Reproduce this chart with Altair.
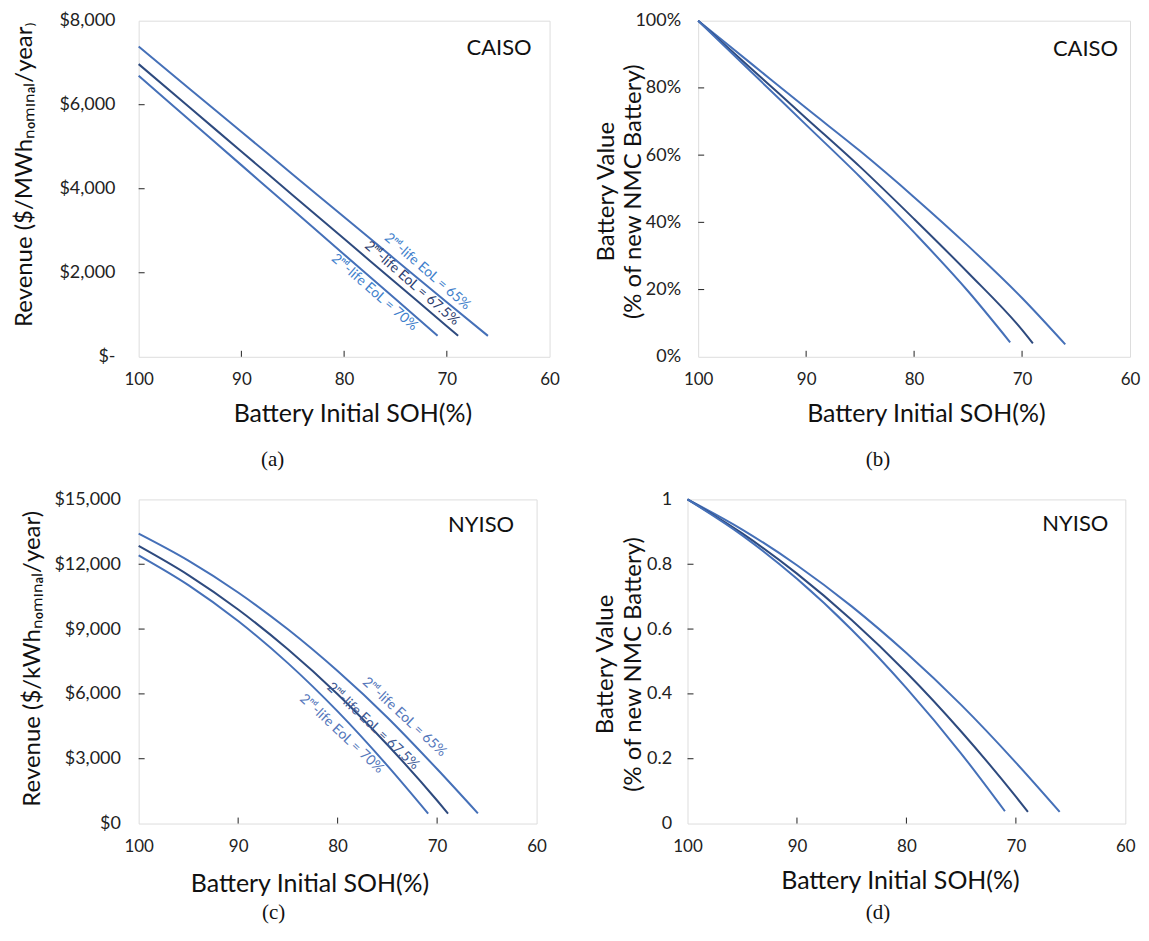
import altair as alt
import pandas as pd

series_names = ["EoL 65%", "EoL 67.5%", "EoL 70%"]
label_texts = ["2ⁿᵈ-life EoL = 65%", "2ⁿᵈ-life EoL = 67.5%", "2ⁿᵈ-life EoL = 70%"]

# (a) CAISO revenue ($/MWh-nominal/year)
a_soh_65 = [100, 95, 90, 85, 80, 75, 70, 66.0]
a_val_65 = [7385, 6370, 5356, 4341, 3327, 2312, 1298, 498]
a_soh_675 = [100, 95, 90, 85, 80, 75, 70, 68.9]
a_val_675 = [6966, 5926, 4887, 3847, 2808, 1768, 729, 500]
a_soh_70 = [100, 95, 90, 85, 80, 75, 70.9]
a_val_70 = [6688, 5625, 4562, 3499, 2436, 1373, 500]
a_label_soh = [71.9, 73.4, 77.05]
a_label_val = [2024, 1746, 1533]

# (b) CAISO battery value (% of new NMC battery)
b_soh_65 = [100, 95, 90, 85, 80, 75, 70, 66.0]
b_val_65 = [100, 87, 74, 61.2, 47.5, 33, 17.5, 3.7]
b_soh_675 = [100, 95, 90, 85, 80, 75, 70, 69.0]
b_val_675 = [100, 85.5, 71, 56.5, 41, 25, 8, 4.0]
b_soh_70 = [100, 95, 90, 85, 80, 75, 71.1]
b_val_70 = [100, 84.5, 69, 53.5, 37, 19.5, 4.3]

# (c) NYISO revenue ($/kWh-nominal/year)
c_soh_65 = [100, 95, 90, 85, 80, 75, 70, 65.9]
c_val_65 = [13415, 12167, 10692, 8988, 7056, 4910, 2522, 470]
c_soh_675 = [100, 95, 90, 85, 80, 75, 70, 68.9]
c_val_675 = [12846, 11497, 9904, 8067, 5986, 3648, 1066, 462]
c_soh_70 = [100, 95, 90, 85, 80, 75, 70.9]
c_val_70 = [12415, 11037, 9373, 7424, 5189, 2682, 462]
c_label_soh = [73.3, 76.45, 79.6]
c_label_val = [4925, 4500, 4150]

# (d) NYISO battery value (fraction of new NMC battery)
d_soh_65 = [100, 95, 90, 85, 80, 75, 70, 66.0]
d_val_65 = [1.0, 0.907, 0.797, 0.670, 0.526, 0.366, 0.188, 0.036]
d_soh_675 = [100, 95, 90, 85, 80, 75, 70, 68.9]
d_val_675 = [1.0, 0.895, 0.771, 0.628, 0.466, 0.284, 0.083, 0.036]
d_soh_70 = [100, 95, 90, 85, 80, 75, 71.0]
d_val_70 = [1.0, 0.889, 0.755, 0.598, 0.418, 0.216, 0.038]

x_tick_values = [100, 90, 80, 70, 60]
x_inner_ticks = [90, 80, 70]

FONT = "Lato"


def make_df(sohs, vals):
    rows = []
    for name, s, v in zip(series_names, sohs, vals):
        for x, y in zip(s, v):
            rows.append({"soh": x, "val": y, "series": name})
    return pd.DataFrame(rows)


def panel(df, W, H, ydomain, yvalues, ylabel_expr, ylabel_pad, ytitle, ytitle_x,
          ytitle_y, ytitle_lh, xtitle_x, xtitle_y, line_colors, region, region_x,
          region_y, tag, tag_x, tag_y, labels=None):
    x_enc = alt.X(
        "soh:Q",
        scale=alt.Scale(domain=[60, 100], reverse=True, nice=False),
        axis=alt.Axis(
            values=x_tick_values, title="Battery Initial SOH(%)", ticks=False,
            tickSize=0, domain=False, grid=False, labelPadding=15,
            labelFontSize=17, labelFont=FONT, labelColor="#222", labelFlush=False,
            titleFont=FONT, titleFontSize=25, titleFontWeight="normal",
            titleColor="#111", titleX=xtitle_x, titleY=xtitle_y,
            titleAlign="center", titleBaseline="middle",
        ),
    )
    y_enc = alt.Y(
        "val:Q",
        scale=alt.Scale(domain=ydomain, nice=False),
        axis=alt.Axis(
            values=yvalues, labelExpr=ylabel_expr, title=ytitle, ticks=False,
            tickSize=0, domain=False, grid=False, labelPadding=ylabel_pad,
            labelFontSize=18, labelFont=FONT, labelColor="#222",
            titleFont=FONT, titleFontSize=24, titleFontWeight="normal",
            titleColor="#111", titleX=ytitle_x, titleY=ytitle_y,
            titleAlign="center", titleBaseline="middle", titleAngle=270,
            titleLineHeight=ytitle_lh,
        ),
    )
    lines = alt.Chart(df).mark_line(strokeWidth=2, interpolate="monotone").encode(
        x=x_enc, y=y_enc,
        color=alt.Color("series:N", scale=alt.Scale(domain=series_names, range=line_colors),
                        legend=None),
    )
    xt = alt.Chart(pd.DataFrame({"soh": x_inner_ticks})).mark_rule(
        color="#222", strokeWidth=1).encode(x=x_enc, y=alt.value(H), y2=alt.value(H - 6))
    yt = alt.Chart(pd.DataFrame({"val": yvalues[1:-1]})).mark_rule(
        color="#222", strokeWidth=1).encode(y=y_enc, x=alt.value(0), x2=alt.value(6))
    reg = alt.Chart(pd.DataFrame({"t": [region]})).mark_text(
        font=FONT, fontSize=22, align="right", baseline="middle", color="#111"
    ).encode(text="t:N", x=alt.value(region_x), y=alt.value(region_y))
    tg = alt.Chart(pd.DataFrame({"t": [tag]})).mark_text(
        font="Liberation Serif", fontSize=21, align="center", baseline="middle", color="#111"
    ).encode(text="t:N", x=alt.value(tag_x), y=alt.value(tag_y))
    layers = [lines, xt, yt, reg, tg]
    if labels is not None:
        lsoh, lval, lcolors, angle = labels
        for txt, s, v, c in zip(label_texts, lsoh, lval, lcolors):
            ldf = pd.DataFrame({"soh": [s], "val": [v], "t": [txt]})
            layers.append(
                alt.Chart(ldf).mark_text(
                    font=FONT, fontSize=14, angle=angle, align="center",
                    baseline="middle", color=c,
                ).encode(x=x_enc, y=y_enc, text="t:N")
            )
    return alt.layer(*layers).properties(width=W, height=H)


blue = "#4570b8"
navy = "#2e4a7e"

A = panel(
    make_df([a_soh_65, a_soh_675, a_soh_70], [a_val_65, a_val_675, a_val_70]),
    412, 337, [0, 8000], [0, 2000, 4000, 6000, 8000],
    "datum.value == 0 ? '$-' : '$' + format(datum.value, ',')", 23.7,
    "Revenue ($/MWhₙₒₘᵢₙₐₗ/year₎", -114, 154, 0,
    214.3, 57, [blue, navy, blue], "CAISO", 412 - 18, 27.6,
    "(a)", 134.3, 337 + 103.7,
    labels=(a_label_soh, a_label_val, ["#3f7fcc", "#2c3d6e", "#3f7fcc"], 41),
)
B = panel(
    make_df([b_soh_65, b_soh_675, b_soh_70], [b_val_65, b_val_675, b_val_70]),
    433, 337, [0, 100], [0, 20, 40, 60, 80, 100],
    "datum.value + '%'", 17.7,
    ["Battery Value", "(% of new NMC Battery)"], -92.2, 171, 27,
    228.3, 57, ["#4169b0", "#2f4f8a", "#4169b0"], "CAISO", 433 - 12, 28,
    "(b)", 180.3, 337 + 103.7,
)
C = panel(
    make_df([c_soh_65, c_soh_675, c_soh_70], [c_val_65, c_val_675, c_val_70]),
    399, 325, [0, 15000], [0, 3000, 6000, 9000, 12000, 15000],
    "'$' + format(datum.value, ',')", 18.3,
    "Revenue ($/kWhₙₒₘᵢₙₐₗ/year)", -106, 159.3, 0,
    171.3, 60, [blue, navy, blue], "NYISO", 399 - 22.5, 25.6,
    "(c)", 135.3, 325 + 90,
    labels=(c_label_soh, c_label_val, ["#5577bb", "#3e5a95", "#5577bb"], 43),
)
D = panel(
    make_df([d_soh_65, d_soh_675, d_soh_70], [d_val_65, d_val_675, d_val_70]),
    439, 325, [0, 1], [0, 0.2, 0.4, 0.6, 0.8, 1],
    "format(datum.value, '~g')", 16,
    ["Battery Value", "(% of new NMC Battery)"], -82, 165, 28,
    213, 57, ["#4169b0", "#2f4f8a", "#4169b0"], "NYISO", 439 - 17, 25,
    "(d)", 191, 325 + 90,
)

row1 = alt.hconcat(A, B, spacing=149, bounds="flush")
row2 = alt.hconcat(C, D, spacing=151.3, bounds="flush")
chart = alt.vconcat(row1, row2, spacing=480, bounds="flush").properties(
    padding={"left": 4, "top": 1.5, "right": 0, "bottom": 0}
).configure_view(stroke="#222", strokeWidth=1.2).configure(background="white")

chart.save("out.html", embed_options={"renderer": "svg", "actions": False})
